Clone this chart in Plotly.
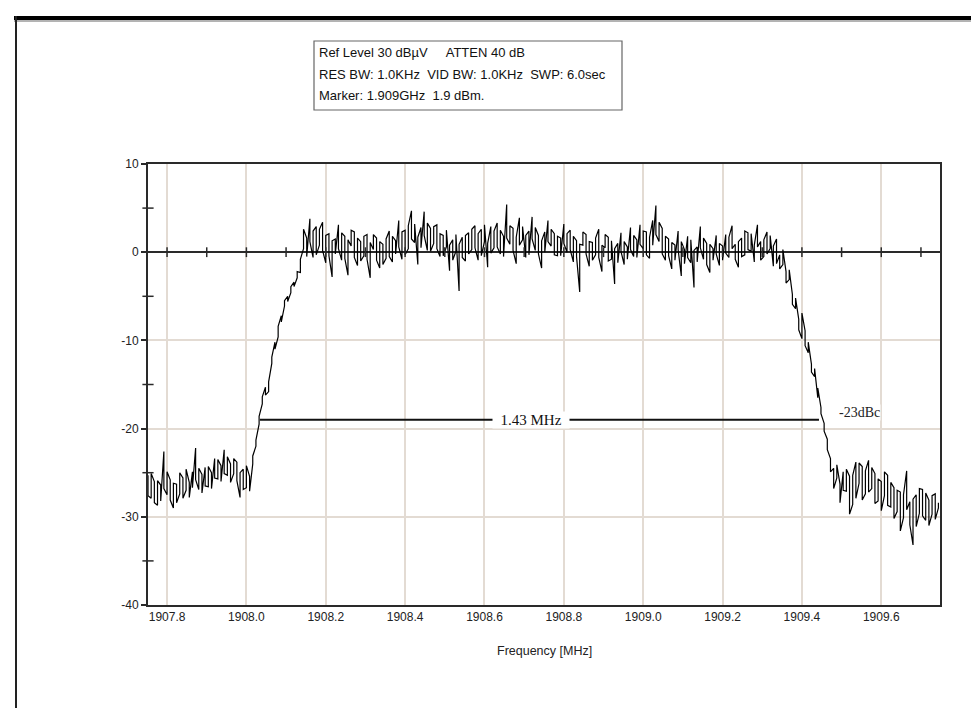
import plotly.graph_objects as go

# ---------------- data ----------------
freq_mhz = [
    1907.752, 1907.760, 1907.768, 1907.776, 1907.784, 1907.792, 1907.800, 1907.808, 1907.816, 1907.824,
    1907.832, 1907.840, 1907.848, 1907.856, 1907.864, 1907.872, 1907.880, 1907.888, 1907.896, 1907.904,
    1907.912, 1907.920, 1907.928, 1907.936, 1907.944, 1907.952, 1907.960, 1907.968, 1907.976, 1907.984,
    1907.992, 1908.000, 1908.008, 1908.016, 1908.024, 1908.032, 1908.040, 1908.048, 1908.056, 1908.064,
    1908.072, 1908.080, 1908.088, 1908.096, 1908.104, 1908.112, 1908.120, 1908.128, 1908.136, 1908.144,
    1908.152, 1908.160, 1908.168, 1908.176, 1908.184, 1908.192, 1908.200, 1908.208, 1908.216, 1908.224,
    1908.232, 1908.240, 1908.248, 1908.256, 1908.264, 1908.272, 1908.280, 1908.288, 1908.296, 1908.304,
    1908.312, 1908.320, 1908.328, 1908.336, 1908.344, 1908.352, 1908.360, 1908.368, 1908.376, 1908.384,
    1908.392, 1908.400, 1908.408, 1908.416, 1908.424, 1908.432, 1908.440, 1908.448, 1908.456, 1908.464,
    1908.472, 1908.480, 1908.488, 1908.496, 1908.504, 1908.512, 1908.520, 1908.528, 1908.536, 1908.544,
    1908.552, 1908.560, 1908.568, 1908.576, 1908.584, 1908.592, 1908.600, 1908.608, 1908.616, 1908.624,
    1908.632, 1908.640, 1908.648, 1908.656, 1908.664, 1908.672, 1908.680, 1908.688, 1908.696, 1908.704,
    1908.712, 1908.720, 1908.728, 1908.736, 1908.744, 1908.752, 1908.760, 1908.768, 1908.776, 1908.784,
    1908.792, 1908.800, 1908.808, 1908.816, 1908.824, 1908.832, 1908.840, 1908.848, 1908.856, 1908.864,
    1908.872, 1908.880, 1908.888, 1908.896, 1908.904, 1908.912, 1908.920, 1908.928, 1908.936, 1908.944,
    1908.952, 1908.960, 1908.968, 1908.976, 1908.984, 1908.992, 1909.000, 1909.008, 1909.016, 1909.024,
    1909.032, 1909.040, 1909.048, 1909.056, 1909.064, 1909.072, 1909.080, 1909.088, 1909.096, 1909.104,
    1909.112, 1909.120, 1909.128, 1909.136, 1909.144, 1909.152, 1909.160, 1909.168, 1909.176, 1909.184,
    1909.192, 1909.200, 1909.208, 1909.216, 1909.224, 1909.232, 1909.240, 1909.248, 1909.256, 1909.264,
    1909.272, 1909.280, 1909.288, 1909.296, 1909.304, 1909.312, 1909.320, 1909.328, 1909.336, 1909.344,
    1909.352, 1909.360, 1909.368, 1909.376, 1909.384, 1909.392, 1909.400, 1909.408, 1909.416, 1909.424,
    1909.432, 1909.440, 1909.448, 1909.456, 1909.464, 1909.472, 1909.480, 1909.488, 1909.496, 1909.504,
    1909.512, 1909.520, 1909.528, 1909.536, 1909.544, 1909.552, 1909.560, 1909.568, 1909.576, 1909.584,
    1909.592, 1909.600, 1909.608, 1909.616, 1909.624, 1909.632, 1909.640, 1909.648, 1909.656, 1909.664,
    1909.672, 1909.680, 1909.688, 1909.696, 1909.704, 1909.712, 1909.720, 1909.728, 1909.736, 1909.744,
]

# first reading in each sweep bin
level_db = [
    -25.3, -27.9, -26.0, -28.7, -26.4, -22.6, -27.5, -25.8, -29.0, -26.3,
    -27.4, -25.6, -27.0, -26.1, -24.9, -22.2, -26.9, -25.2, -24.4, -26.6,
    -25.0, -23.4, -25.7, -24.2, -22.4, -25.3, -24.0, -25.1, -23.8, -27.8,
    -24.6, -26.7, -25.4, -24.0, -22.0, -19.5, -17.2, -15.3, -15.8, -12.6,
    -10.2, -9.6, -7.2, -6.1, -5.0, -4.6, -3.4, -2.9, -2.3, 0.4,
    1.6, 3.8, -0.6, 2.9, 0.8, 3.4, -1.2, 2.1, -2.8, 1.5,
    3.1, -0.9, 1.8, -2.6, 0.7, 2.3, -1.5, 1.2, -0.4, 2.0,
    -2.9, 0.3, 1.6, -1.8, 0.9, -0.7, 2.4, -1.1, 1.3, 3.6,
    -0.8, 2.5, 0.4, 4.7, 1.1, -1.4, 2.8, 4.6, 0.2, 2.7,
    1.0, 3.1, -0.5, 1.9, 0.6, -2.1, 1.4, 0.1, -4.4, 1.7,
    -1.0, 2.2, 0.3, 3.0, -0.9, 2.6, 1.2, -1.7, 2.9, 0.5,
    3.3, -0.2, 1.8, 5.4, 0.9, 2.7, -1.3, 3.9, 1.4, -0.6,
    2.4, 4.0, 0.2, 1.9, -1.8, 2.3, 3.6, 0.7, 2.1, -0.4,
    1.6, 3.2, 0.0, 2.5, -1.1, 1.3, -4.5, 0.8, 2.0, -1.6,
    1.1, -0.3, 2.6, -2.2, 0.5, 1.7, -0.8, -3.6, 1.0, 2.2,
    -1.4, 0.6, 2.8, -0.5, 1.4, 3.1, 0.4, 2.3, -0.7, 3.6,
    5.3, 1.2, 2.7, -0.9, 1.5, -1.9, 0.8, 2.4, -2.7, 0.3,
    1.8, -1.2, -4.0, 0.6, 2.9, -0.8, 1.0, -2.3, 0.4, 1.9,
    -1.5, 0.7, 2.0, -0.6, 3.0, 0.9, -1.7, 1.6, -0.3, 2.2,
    0.1, -1.1, 3.1, 1.2, -0.5, 2.3, 0.4, -1.6, 1.5, -0.3,
    -1.4, -2.2, -3.1, -4.8, -6.4, -7.6, -9.8, -8.9, -11.4, -12.7,
    -14.1, -16.5, -17.6, -19.4, -21.2, -23.4, -24.5, -25.6, -26.3, -24.9,
    -27.1, -25.4, -28.6, -23.8, -26.2, -24.3, -27.4, -23.6, -26.8, -25.1,
    -28.2, -26.0, -27.6, -25.3, -28.9, -26.7, -29.4, -27.2, -30.1, -24.8,
    -28.3, -33.2, -27.5, -29.6, -26.9, -30.4, -28.1, -29.7, -27.4, -29.0,
]

# second reading in each sweep bin (the trace swings between both)
level_db_second = [
    -27.6, -25.1, -28.4, -25.9, -28.2, -26.8, -24.9, -28.1, -26.2, -28.4,
    -25.0, -27.9, -24.6, -27.8, -26.7, -25.8, -24.5, -27.3, -26.5, -24.3,
    -26.8, -25.6, -23.5, -26.0, -25.1, -23.2, -26.1, -23.4, -25.9, -25.0,
    -26.9, -24.2, -27.1, -23.1, -21.3, -18.6, -16.4, -16.2, -14.7, -11.9,
    -11.0, -8.4, -7.9, -5.5, -5.6, -3.9, -3.9, -2.2, -0.8, 2.6,
    -0.5, 1.2, 2.4, -0.3, 2.6, 0.2, 1.9, -0.4, 1.3, -0.2,
    0.4, 2.2, -0.7, 1.4, 2.5, -0.6, 1.6, -1.0, 1.8, -0.8,
    1.1, 2.0, -0.9, 1.2, -1.4, 1.5, -0.5, 1.8, -0.2, 0.6,
    2.3, -0.3, 3.0, 1.5, 3.2, 1.7, 0.5, 1.9, 3.3, 0.1,
    2.9, 0.4, 2.1, -0.4, 2.5, 0.8, -0.9, 2.0, 0.9, -0.6,
    1.9, -0.2, 2.6, 0.5, 2.1, -0.4, 3.1, 1.0, -0.1, 2.4,
    0.6, 2.5, -0.5, 1.6, 3.0, 0.2, 1.7, 0.8, 2.9, 1.9,
    -0.3, 1.5, 2.8, -0.2, 1.3, 0.0, 1.2, 2.6, -0.3, 1.8,
    -0.4, 1.0, 2.1, 0.3, 1.8, -0.5, 0.9, 2.3, -0.2, 1.2,
    -0.9, 1.6, -0.6, 0.8, 2.0, -1.0, 1.3, 0.4, -1.2, 0.1,
    1.2, -0.8, 0.3, 1.9, -0.6, 0.9, 2.4, -0.3, 1.7, 0.8,
    2.0, 3.4, -0.2, 1.8, -0.4, 1.1, -0.9, 0.3, 1.2, -1.3,
    -0.6, 1.4, 0.2, -1.1, 0.5, 1.6, -1.4, 0.9, -0.9, -0.2,
    1.0, -0.9, -0.1, 1.7, 0.4, -0.8, 1.2, -0.5, 2.4, 0.3,
    2.1, 0.8, 0.6, -0.9, 1.4, -0.2, 1.9, 0.7, -1.3, -1.9,
    0.3, -3.5, -2.0, -5.9, -5.2, -8.8, -6.9, -10.6, -10.2, -13.6,
    -13.2, -15.4, -18.3, -20.3, -22.4, -24.9, -26.8, -24.1, -28.4, -27.0,
    -24.6, -29.7, -25.3, -27.9, -23.9, -28.1, -24.8, -27.2, -24.4, -28.5,
    -25.7, -29.3, -24.9, -28.7, -26.1, -30.2, -27.0, -31.6, -27.5, -29.2,
    -30.9, -28.0, -31.1, -26.8, -29.9, -27.3, -31.0, -27.6, -30.3, -28.4,
]

x_tick_vals = [1907.8, 1908.0, 1908.2, 1908.4, 1908.6, 1908.8, 1909.0, 1909.2, 1909.4, 1909.6]
x_tick_text = ["1907.8", "1908.0", "1908.2", "1908.4", "1908.6", "1908.8", "1909.0", "1909.2", "1909.4", "1909.6"]
y_tick_vals = [10, 0, -10, -20, -30, -40]
y_tick_text = ["10", "0", "-10", "-20", "-30", "-40"]
y_minor_vals = [5, -5, -15, -25, -35]
zero_line_ticks = [1907.8, 1907.9, 1908.0, 1908.1, 1908.2, 1908.3, 1908.4, 1908.5, 1908.6,
                   1908.7, 1908.8, 1908.9, 1909.0, 1909.1, 1909.2, 1909.3, 1909.4, 1909.5,
                   1909.6, 1909.7]

x_range = [1907.752, 1909.748]
y_range = [-40, 10]

bw_start = 1908.034
bw_stop = 1909.443
bw_level = -19.0
bw_label = "1.43 MHz"
dbc_label = "-23dBc"

info_lines = [
    "Ref Level 30 dBµV&nbsp;&nbsp;&nbsp;&nbsp;&nbsp;ATTEN 40 dB",
    "RES BW: 1.0KHz&nbsp;&nbsp;VID BW: 1.0KHz&nbsp;&nbsp;SWP: 6.0sec",
    "Marker: 1.909GHz&nbsp;&nbsp;1.9 dBm.",
]

# ---------------- figure ----------------
W, H = 979, 708
L, R, T, B = 140, 47, 156, 111
pw, ph = W - L - R, H - T - B


def px_x(px):
    return (px - L) / pw


def px_y(py):
    return (H - B - py) / ph


SANS = "Liberation Sans, Arial, sans-serif"
SERIF = "Liberation Serif, Times New Roman, serif"
GRID = "#e3dbd3"
AXC = "#2a2a2a"

# the trace visits both readings of every bin, in sweep order
trace_x, trace_y = [], []
for f, a, b in zip(freq_mhz, level_db, level_db_second):
    trace_x += [f, f]
    trace_y += [a, b]

fig = go.Figure()

fig.add_trace(go.Scatter(
    x=trace_x, y=trace_y, mode="lines",
    line=dict(color="#000000", width=1.2),
    hoverinfo="skip", showlegend=False,
))

# bandwidth marker line
fig.add_trace(go.Scatter(
    x=[bw_start, bw_stop], y=[bw_level, bw_level], mode="lines",
    line=dict(color="#111111", width=2),
    hoverinfo="skip", showlegend=False,
))

# small ticks across the zero line
fig.add_trace(go.Scatter(
    x=zero_line_ticks, y=[0] * len(zero_line_ticks), mode="markers",
    marker=dict(symbol="line-ns", size=7, line=dict(color=AXC, width=1.5)),
    hoverinfo="skip", showlegend=False, cliponaxis=False,
))

# minor ticks crossing the y axis
fig.add_trace(go.Scatter(
    x=[x_range[0]] * len(y_minor_vals), y=y_minor_vals, mode="markers",
    marker=dict(symbol="line-ew", size=8, line=dict(color=AXC, width=1.5)),
    hoverinfo="skip", showlegend=False, cliponaxis=False,
))

annotations = []
annotations.append(dict(
    x=(bw_start + bw_stop) / 2, y=bw_level, xref="x", yref="y", xshift=-8,
    text="&nbsp;&nbsp;" + bw_label + "&nbsp;&nbsp;", showarrow=False, bgcolor="white",
    font=dict(family=SERIF, size=15, color="#111"), borderpad=0,
))
annotations.append(dict(
    x=bw_stop, y=bw_level + 0.8, xref="x", yref="y", xanchor="left", xshift=19,
    text=dbc_label, showarrow=False, bgcolor="white", borderpad=0,
    font=dict(family=SERIF, size=14, color="#222"),
))

info_y_px = [45, 66, 87]
for txt, ypx in zip(info_lines, info_y_px):
    annotations.append(dict(
        x=px_x(309), y=px_y(ypx), xref="paper", yref="paper",
        xanchor="left", yanchor="middle", text=txt, showarrow=False,
        font=dict(family=SANS, size=13, color="#111"),
    ))

annotations.append(dict(
    x=0.5, y=px_y(643), xref="paper", yref="paper",
    xanchor="center", yanchor="middle", text="Frequency [MHz]", showarrow=False,
    font=dict(family=SANS, size=12.5, color="#222"),
))

shapes = [
    # info box
    dict(type="rect", xref="paper", yref="paper",
         x0=px_x(306), x1=px_x(614), y0=px_y(33), y1=px_y(102),
         line=dict(color="#666", width=1.2), fillcolor="rgba(0,0,0,0)"),
    # page frame: thick top bar and thin left bar
    dict(type="line", xref="paper", yref="paper",
         x0=px_x(6), x1=px_x(979), y0=px_y(10), y1=px_y(10),
         line=dict(color="#000", width=4)),
    dict(type="line", xref="paper", yref="paper",
         x0=px_x(6), x1=px_x(979), y0=px_y(13), y1=px_y(13),
         line=dict(color="#9a9a9a", width=1.5)),
    dict(type="line", xref="paper", yref="paper",
         x0=px_x(8), x1=px_x(8), y0=px_y(8), y1=px_y(708),
         line=dict(color="#222", width=2)),
]

fig.update_layout(
    width=W, height=H,
    margin=dict(l=L, r=R, t=T, b=B, pad=0),
    paper_bgcolor="white", plot_bgcolor="white",
    showlegend=False,
    annotations=annotations,
    shapes=shapes,
    font=dict(family=SANS, size=12, color="#222"),
)

fig.update_xaxes(
    range=x_range, tickvals=x_tick_vals, ticktext=x_tick_text,
    showgrid=True, gridcolor=GRID, gridwidth=1.5,
    showline=True, linecolor=AXC, linewidth=2, mirror=True,
    ticks="", zeroline=False,
    tickfont=dict(family=SANS, size=12, color="#222"),
)
fig.update_yaxes(
    range=y_range, tickvals=y_tick_vals, ticktext=y_tick_text,
    showgrid=True, gridcolor=GRID, gridwidth=1.5,
    showline=True, linecolor=AXC, linewidth=2, mirror=True,
    ticks="outside", ticklen=5, tickwidth=1.5, tickcolor=AXC,
    zeroline=True, zerolinecolor=AXC, zerolinewidth=1.5,
    tickfont=dict(family=SANS, size=12, color="#222"),
)

fig.write_html("out.html")
